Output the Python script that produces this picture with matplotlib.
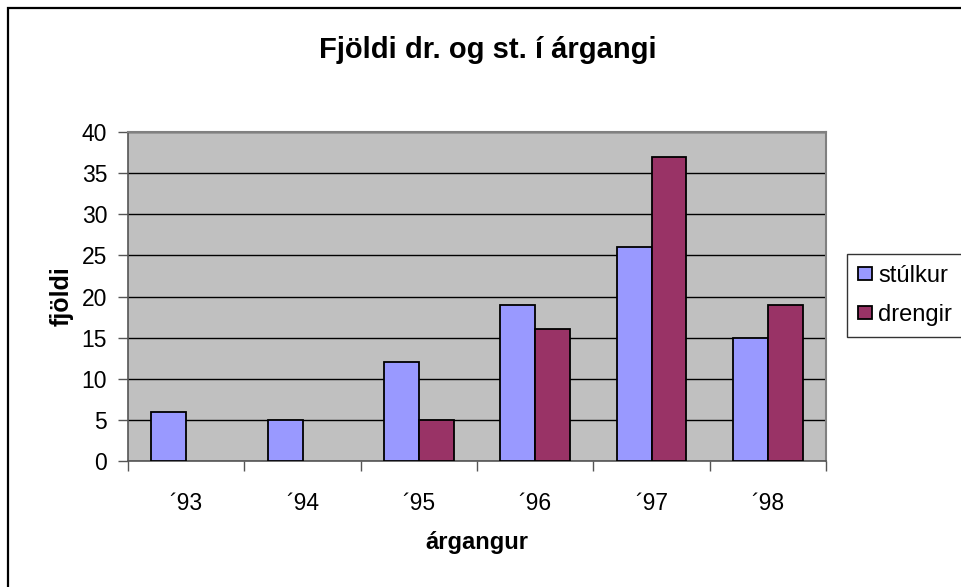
import matplotlib
matplotlib.use("Agg")
import matplotlib.pyplot as plt
import numpy as np
from matplotlib.patches import Rectangle

categories = ["´93", "´94", "´95", "´96", "´97", "´98"]
stulkur = [6, 5, 12, 19, 26, 15]
drengir = [0, 0, 5, 16, 37, 19]
yticks = [0, 5, 10, 15, 20, 25, 30, 35, 40]

plt.rcParams['font.family'] = ['Liberation Sans', 'DejaVu Sans']

W, H = 961, 587
fig = plt.figure(figsize=(W/100, H/100), dpi=100)
fig.patch.set_facecolor('white')
fig.patches.append(Rectangle((8/W, -0.05), 1.1, 1 - 8/H + 0.05, transform=fig.transFigure,
                             fill=False, edgecolor='black', linewidth=1.6, zorder=10))

L, R, T, B = 128, 826, 132, 461
ax = fig.add_axes([L/W, 1 - B/H, (R-L)/W, (B-T)/H])
ax.set_facecolor('#C0C0C0')

x = np.arange(len(categories))
w = 0.30
b1 = ax.bar(x - w/2, stulkur, w, color='#9999FF', edgecolor='black', linewidth=1.3, label='stúlkur', zorder=3)
b2 = ax.bar(x + w/2, drengir, w, color='#993366', edgecolor='black', linewidth=1.3, label='drengir', zorder=3)
for bars, vals in ((b1, stulkur), (b2, drengir)):
    for p, v in zip(bars, vals):
        if v == 0:
            p.set_linewidth(0)

ax.set_xlim(-0.5, len(categories) - 0.5)
ax.set_ylim(0, 40)
ax.set_yticks(yticks)
ax.set_yticklabels([str(v) for v in yticks], fontsize=16.5)
ax.yaxis.grid(True, color='black', linewidth=1.0, zorder=1)
ax.set_axisbelow(True)

ax.set_xticks(x)
ax.set_xticklabels(categories, fontsize=16.5)
ax.set_xticks(np.arange(len(categories) + 1) - 0.5, minor=True)
ax.tick_params(axis='x', which='major', length=0, pad=22)
ax.tick_params(axis='x', which='minor', length=7, width=1, color='#555555', direction='out')
ax.tick_params(axis='y', length=7, width=1, color='#555555', direction='out', pad=8)

for s in ['top', 'right']:
    ax.spines[s].set_color('#808080')
    ax.spines[s].set_linewidth(1.5)
for s in ['left', 'bottom']:
    ax.spines[s].set_color('#555555')
    ax.spines[s].set_linewidth(1.2)

ax.set_xlabel('árgangur', fontsize=17, fontweight='bold', labelpad=12)
ax.set_ylabel('fjöldi', fontsize=18, fontweight='bold', labelpad=6)

fig.text(488/W, 1 - 50/H, 'Fjöldi dr. og st. í árgangi', ha='center', va='center',
         fontsize=21, fontweight='bold')

leg = fig.legend(handles=[b1, b2], labels=['stúlkur', 'drengir'], loc='upper left',
                 bbox_to_anchor=(847/W, 1 - 254/H), fontsize=17,
                 frameon=True, fancybox=False, edgecolor='black', handlelength=0.6,
                 handleheight=0.45, handletextpad=0.25, borderpad=0.47, labelspacing=0.7,
                 borderaxespad=0)
leg.get_frame().set_linewidth(1.0)
for h in leg.legend_handles:
    h.set_linewidth(1.3)
    h.set_edgecolor('black')

fig.savefig('out.png', dpi=100)
